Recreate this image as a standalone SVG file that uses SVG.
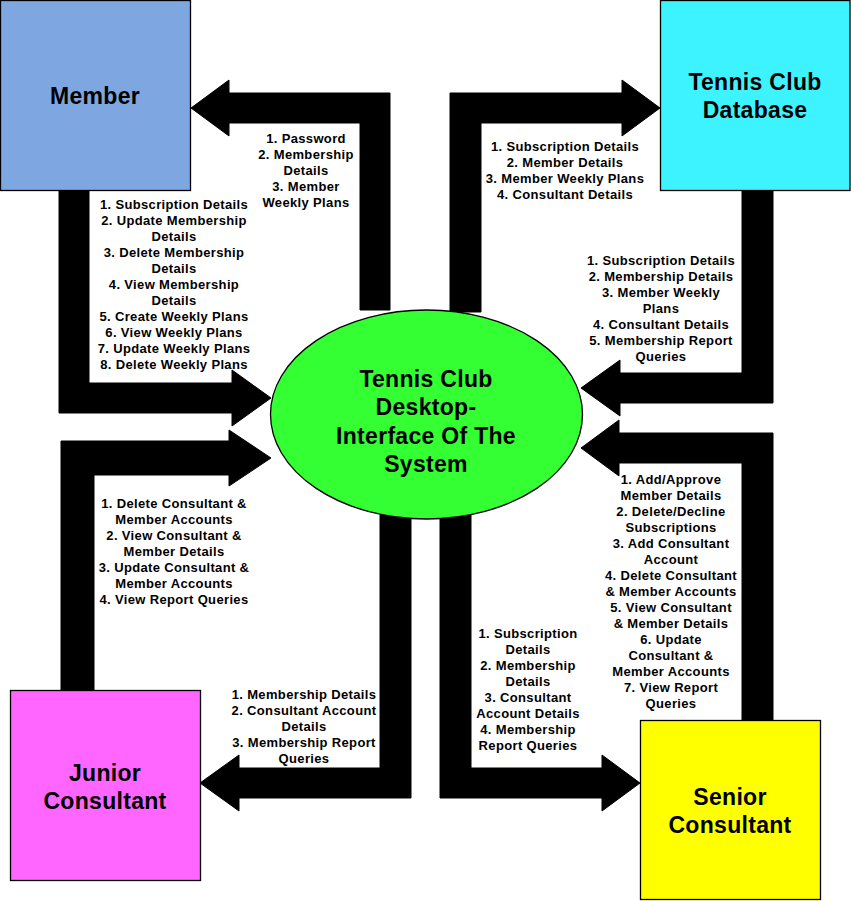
<svg xmlns="http://www.w3.org/2000/svg" width="851" height="901" viewBox="0 0 851 901">
<style>
.conn{fill:#000;stroke:#000;stroke-width:1}
.box{stroke:#000;stroke-width:1.3}
.lbl{font-family:"Liberation Sans",Arial,sans-serif;font-weight:bold;font-size:13px;letter-spacing:0.35px;fill:#000;text-anchor:middle}
.big{font-family:"Liberation Sans",Arial,sans-serif;font-weight:bold;font-size:23px;letter-spacing:0.3px;fill:#000;text-anchor:middle}
</style>
<rect width="851" height="901" fill="#fff"/>
<g id="connectors">
<polygon class="conn" points="191,108 229,80 229,93 390,93 390,310 360,310 360,123 229,123 229,136"/>
<polygon class="conn" points="59,190 89,190 89,383 232,383 232,370 271,398 232,426 232,413 59,413"/>
<polygon class="conn" points="61,690 61,441 229,441 229,430 271,458 229,486 229,475 94,475 94,690"/>
<polygon class="conn" points="380,515 411,515 411,798 239,798 239,811 200,783 239,755 239,768 380,768"/>
<polygon class="conn" points="440,515 471,515 471,768 602,768 602,755 640,783 602,811 602,798 440,798"/>
<polygon class="conn" points="742,720 742,463 619,463 619,476 581,448 619,420 619,433 773,433 773,720"/>
<polygon class="conn" points="450,312 450,93 622,93 622,80 660,108 622,136 622,123 481,123 481,312"/>
<polygon class="conn" points="742,190 773,190 773,403 620,403 620,416 581,388 620,360 620,373 742,373"/>
</g>
<g id="labels">
<text class="lbl" x="306" y="143"><tspan x="306">1. Password</tspan><tspan x="306" dy="16">2. Membership</tspan><tspan x="306" dy="16">Details</tspan><tspan x="306" dy="16">3. Member</tspan><tspan x="306" dy="16">Weekly Plans</tspan></text>
<text class="lbl" x="174" y="209"><tspan x="174">1. Subscription Details</tspan><tspan x="174" dy="16">2. Update Membership</tspan><tspan x="174" dy="16">Details</tspan><tspan x="174" dy="16">3. Delete Membership</tspan><tspan x="174" dy="16">Details</tspan><tspan x="174" dy="16">4. View Membership</tspan><tspan x="174" dy="16">Details</tspan><tspan x="174" dy="16">5. Create Weekly Plans</tspan><tspan x="174" dy="16">6. View Weekly Plans</tspan><tspan x="174" dy="16">7. Update Weekly Plans</tspan><tspan x="174" dy="16">8. Delete Weekly Plans</tspan></text>
<text class="lbl" x="565" y="151"><tspan x="565">1. Subscription Details</tspan><tspan x="565" dy="16">2. Member Details</tspan><tspan x="565" dy="16">3. Member Weekly Plans</tspan><tspan x="565" dy="16">4. Consultant Details</tspan></text>
<text class="lbl" x="661" y="265"><tspan x="661">1. Subscription Details</tspan><tspan x="661" dy="16">2. Membership Details</tspan><tspan x="661" dy="16">3. Member Weekly</tspan><tspan x="661" dy="16">Plans</tspan><tspan x="661" dy="16">4. Consultant Details</tspan><tspan x="661" dy="16">5. Membership Report</tspan><tspan x="661" dy="16">Queries</tspan></text>
<text class="lbl" x="174" y="508"><tspan x="174">1. Delete Consultant &amp;</tspan><tspan x="174" dy="16">Member Accounts</tspan><tspan x="174" dy="16">2. View Consultant &amp;</tspan><tspan x="174" dy="16">Member Details</tspan><tspan x="174" dy="16">3. Update Consultant &amp;</tspan><tspan x="174" dy="16">Member Accounts</tspan><tspan x="174" dy="16">4. View Report Queries</tspan></text>
<text class="lbl" x="304" y="699"><tspan x="304">1. Membership Details</tspan><tspan x="304" dy="16">2. Consultant Account</tspan><tspan x="304" dy="16">Details</tspan><tspan x="304" dy="16">3. Membership Report</tspan><tspan x="304" dy="16">Queries</tspan></text>
<text class="lbl" x="528" y="638"><tspan x="528">1. Subscription</tspan><tspan x="528" dy="16">Details</tspan><tspan x="528" dy="16">2. Membership</tspan><tspan x="528" dy="16">Details</tspan><tspan x="528" dy="16">3. Consultant</tspan><tspan x="528" dy="16">Account Details</tspan><tspan x="528" dy="16">4. Membership</tspan><tspan x="528" dy="16">Report Queries</tspan></text>
<text class="lbl" x="671" y="484"><tspan x="671">1. Add/Approve</tspan><tspan x="671" dy="16">Member Details</tspan><tspan x="671" dy="16">2. Delete/Decline</tspan><tspan x="671" dy="16">Subscriptions</tspan><tspan x="671" dy="16">3. Add Consultant</tspan><tspan x="671" dy="16">Account</tspan><tspan x="671" dy="16">4. Delete Consultant</tspan><tspan x="671" dy="16">&amp; Member Accounts</tspan><tspan x="671" dy="16">5. View Consultant</tspan><tspan x="671" dy="16">&amp; Member Details</tspan><tspan x="671" dy="16">6. Update</tspan><tspan x="671" dy="16">Consultant &amp;</tspan><tspan x="671" dy="16">Member Accounts</tspan><tspan x="671" dy="16">7. View Report</tspan><tspan x="671" dy="16">Queries</tspan></text>
</g>
<g id="member">
<rect class="box" x="0.5" y="0.5" width="190" height="190" fill="#7EA6E0"/>
<text class="big" x="95" y="104">Member</text>
</g>
<g id="database">
<rect class="box" x="660.5" y="0.5" width="189.5" height="190" fill="#3DF3FF"/>
<text class="big" x="755" y="90"><tspan x="755">Tennis Club</tspan><tspan x="755" dy="28">Database</tspan></text>
</g>
<g id="system">
<ellipse class="box" cx="426.5" cy="414.5" rx="156" ry="104.5" fill="#33FF33"/>
<text class="big" x="426" y="387"><tspan x="426">Tennis Club</tspan><tspan x="426" dy="28.3">Desktop-</tspan><tspan x="426" dy="28.3">Interface Of The</tspan><tspan x="426" dy="28.3">System</tspan></text>
</g>
<g id="junior">
<rect class="box" x="10.5" y="690.5" width="190" height="190" fill="#FF66FF"/>
<text class="big" x="105" y="781"><tspan x="105">Junior</tspan><tspan x="105" dy="27.5">Consultant</tspan></text>
</g>
<g id="senior">
<rect class="box" x="640.5" y="720.5" width="180" height="179" fill="#FFFF00"/>
<text class="big" x="730" y="805"><tspan x="730">Senior</tspan><tspan x="730" dy="27.5">Consultant</tspan></text>
</g>
</svg>
